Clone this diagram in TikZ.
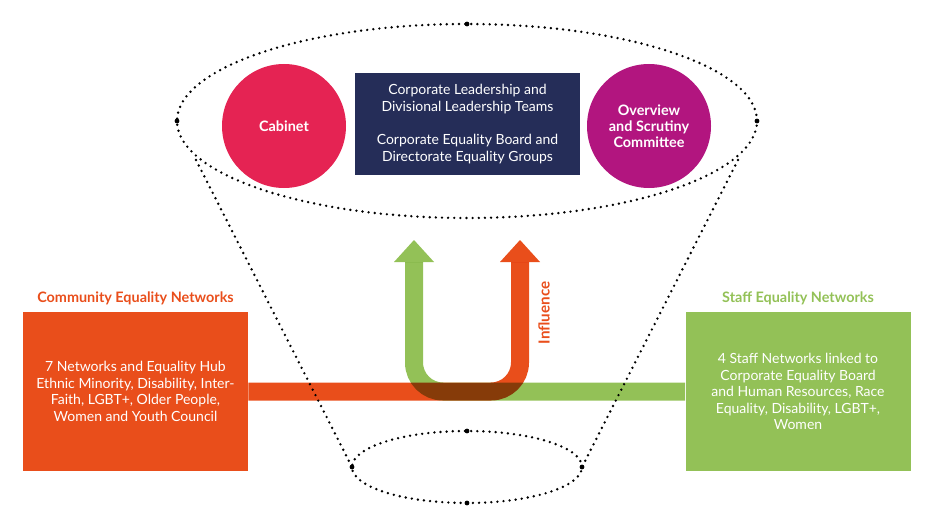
\documentclass[tikz,border=0pt]{standalone}
\usepackage{fontspec}
\setmainfont{Lato}
\usetikzlibrary{arrows.meta,positioning,shapes.geometric}

\definecolor{netorange}{HTML}{E94E1B}
\definecolor{netgreen}{HTML}{93C157}
\definecolor{cabred}{HTML}{E52353}
\definecolor{scrutiny}{HTML}{B2157F}
\definecolor{leadnavy}{HTML}{252D58}

\begin{document}
\begin{tikzpicture}[x=0.75pt,y=-0.75pt,font=\fontsize{10.5}{12.4}\selectfont,
    dots/.style={line width=2pt,dash pattern=on 0pt off 4.6pt,line cap=round},
    ring/.style={ellipse,draw,dots,inner sep=0pt,outer sep=0pt},
    body circle/.style={circle,minimum size=93pt,inner sep=0pt,text=white,align=center,
                        font=\bfseries\fontsize{10.8}{12}\selectfont},
    net box/.style={minimum width=168.75pt,minimum height=119.25pt,inner sep=0pt,
                    text=white,align=center},
    net title/.style={font=\bfseries\fontsize{10.8}{12}\selectfont,inner sep=1pt},
    band/.style={line width=13.5pt,rounded corners=21.75pt,
                 -{Triangle[length=16.5pt,width=30pt,line width=0pt]}}]

  \useasboundingbox (0,0) rectangle (943,517);

  % funnel
  \node[ring,minimum width=435pt,minimum height=145.5pt] (top) at (467,121) {};
  \node[ring,minimum width=172.5pt,minimum height=54pt] (neck) at (467,467) {};
  \foreach \a in {north,west,east}
    \fill (top.\a) circle (1.8pt);
  \foreach \a in {north,south,west,east}
    \fill (neck.\a) circle (1.8pt);

  % decision bodies
  \node[body circle,fill=cabred] (cabinet) at (284,126) {Cabinet};
  \node[fill=leadnavy,text=white,align=center,minimum width=168.75pt,
        minimum height=76.5pt,inner sep=0pt] (lead) at (467.5,124)
    {Corporate Leadership and\\Divisional Leadership Teams\\[12.5pt]
     Corporate Equality Board and\\Directorate Equality Groups};
  \node[body circle,fill=scrutiny] (osc) at (649,126)
    {Overview\\and Scrutiny\\Committee};

  % networks
  \node[net box,fill=netorange] (community) at (135.5,391.5)
    {7 Networks and Equality Hub\\Ethnic Minority, Disability, Inter-\\
     Faith, LGBT+, Older People,\\Women and Youth Council};
  \node[net title,text=netorange,above=4pt of community] (community title)
    {Community Equality Networks};
  \node[net box,fill=netgreen] (staff) at (798,391.5)
    {4 Staff Networks linked to\\Corporate Equality Board\\
     and Human Resources, Race\\Equality, Disability, LGBT+,\\Women};
  \node[net title,text=netgreen,above=4pt of staff] (staff title)
    {Staff Equality Networks};

  % influence arrows
  \coordinate (green tip) at (414,240);
  \coordinate (orange tip) at (520,240);
  \begin{scope}[blend group=multiply]
    \draw[band,netgreen] (staff.west) -| (green tip);
    \draw[band,netorange] (community.east) -| (orange tip);
  \end{scope}
  \node[rotate=90,text=netorange,font=\bfseries\fontsize{11.4}{12}\selectfont]
    (influence) at (544,313) {Influence};

  \coordinate (funnel l) at (196,160);
  \coordinate (funnel r) at (738,160);
  \draw[dots] (funnel l) -- (neck.west);
  \draw[dots] (funnel r) -- (neck.east);
\end{tikzpicture}
\end{document}
